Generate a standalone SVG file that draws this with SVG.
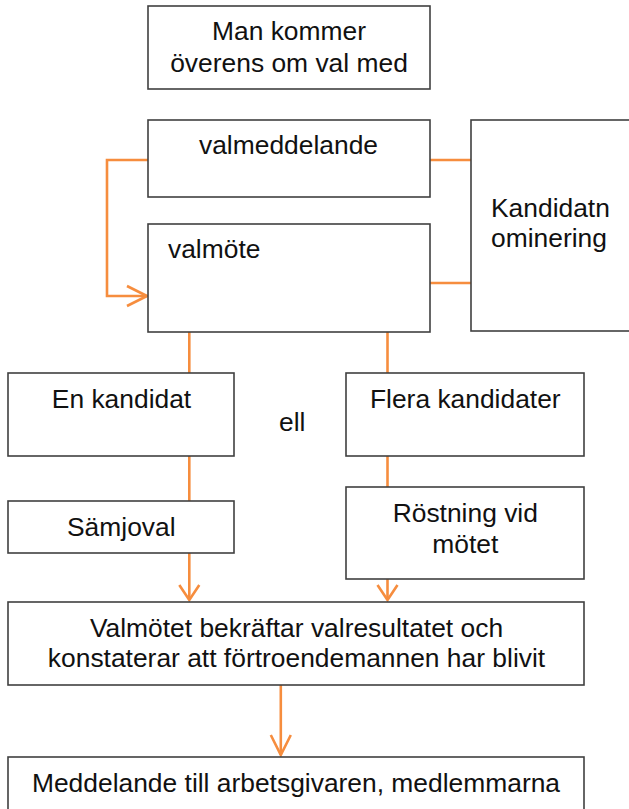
<svg xmlns="http://www.w3.org/2000/svg" width="629" height="809" viewBox="0 0 629 809">
<style>
.box{fill:#fff;stroke:#404040;stroke-width:1.6}
.t{font-family:"Liberation Sans",Arial,sans-serif;font-size:26.4px;fill:#111}
.c{text-anchor:middle}
.con{fill:none;stroke:#F68D3E;stroke-width:2.6;stroke-linejoin:miter}
</style>
<defs>
<marker id="arr" markerUnits="userSpaceOnUse" markerWidth="24" markerHeight="24" viewBox="-22 -12 24 24" refX="0" refY="0" orient="auto">
<path d="M-20,-10 L0,0 L-20,10" fill="none" stroke="#F68D3E" stroke-width="2.6"/>
</marker>
<marker id="arrs" markerUnits="userSpaceOnUse" markerWidth="24" markerHeight="24" viewBox="-22 -12 24 24" refX="0" refY="0" orient="auto">
<path d="M-15,-10 L0,0 L-15,10" fill="none" stroke="#F68D3E" stroke-width="2.6"/>
</marker>
</defs>
<rect width="629" height="809" fill="#fff"/>
<g id="connectors">
<path class="con" d="M148,160 H107 V296 H147" marker-end="url(#arr)"/>
<path class="con" d="M430,160 H471"/>
<path class="con" d="M430,283 H471"/>
<path class="con" d="M189.3,332 V373"/>
<path class="con" d="M387.5,332 V373"/>
<path class="con" d="M189.3,456 V501"/>
<path class="con" d="M387.5,456 V487"/>
<path class="con" d="M189.3,553 V600" marker-end="url(#arrs)"/>
<path class="con" d="M387.5,579 V600" marker-end="url(#arrs)"/>
<path class="con" d="M280.8,685 V755" marker-end="url(#arr)"/>
</g>
<g id="n-top">
<rect class="box" x="148" y="6" width="282" height="83"/>
<text class="t c" x="289" y="40">Man kommer</text>
<text class="t c" x="289" y="71.5">överens om val med</text>
</g>
<g id="n-valmeddelande">
<rect class="box" x="148" y="120" width="282" height="77"/>
<text class="t c" x="288.5" y="154">valmeddelande</text>
</g>
<g id="n-valmote">
<rect class="box" x="148" y="224" width="282" height="108"/>
<text class="t" x="168" y="257.5">valmöte</text>
</g>
<g id="n-kandidat">
<rect class="box" x="471" y="120" width="180" height="211"/>
<text class="t" x="491" y="217">Kandidatn</text>
<text class="t" x="491" y="247">ominering</text>
</g>
<g id="n-en">
<rect class="box" x="8" y="373" width="226" height="83"/>
<text class="t c" x="121.5" y="408">En kandidat</text>
</g>
<g id="n-ell">
<text class="t" x="279" y="430.5">ell</text>
</g>
<g id="n-flera">
<rect class="box" x="346" y="373" width="238" height="83"/>
<text class="t c" x="465.3" y="408">Flera kandidater</text>
</g>
<g id="n-samjoval">
<rect class="box" x="8" y="501" width="226" height="52"/>
<text class="t c" x="121.3" y="535.5">Sämjoval</text>
</g>
<g id="n-rostning">
<rect class="box" x="346" y="487" width="238" height="92"/>
<text class="t c" x="465.3" y="522">Röstning vid</text>
<text class="t c" x="465.3" y="552.5">mötet</text>
</g>
<g id="n-valmotet">
<rect class="box" x="8" y="602" width="576" height="83"/>
<text class="t c" x="296.5" y="636.5">Valmötet bekräftar valresultatet och</text>
<text class="t c" x="296.5" y="667">konstaterar att förtroendemannen har blivit</text>
</g>
<g id="n-meddelande">
<rect class="box" x="8" y="757" width="576" height="70"/>
<text class="t c" x="296" y="791.5">Meddelande till arbetsgivaren, medlemmarna</text>
</g>
</svg>
